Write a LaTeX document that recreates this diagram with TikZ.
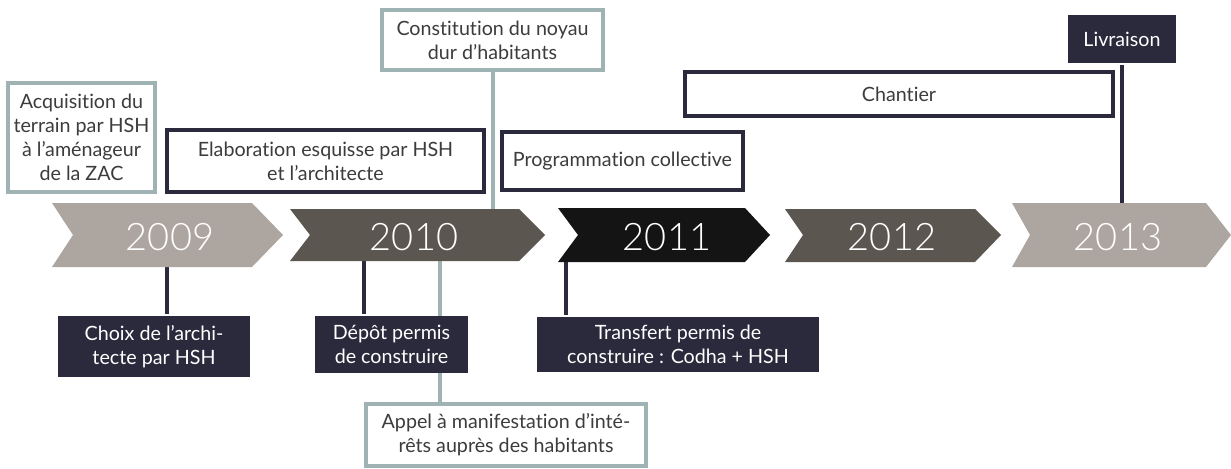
\documentclass[tikz,border=0pt]{standalone}
\usepackage{fontspec}
\setmainfont[Ligatures=NoCommon]{Lato}
\newfontfamily\yearfont{Lato Light}
\usetikzlibrary{backgrounds}
\definecolor{beige}{HTML}{ADA59F}
\definecolor{taupe}{HTML}{5B5650}
\definecolor{inky}{HTML}{141414}
\definecolor{navy}{HTML}{2B2A3D}
\definecolor{pale}{HTML}{9FB3B5}
\definecolor{txt}{HTML}{3C3C3C}
\begin{document}
\begin{tikzpicture}[x=0.025cm,y=-0.025cm,
  box/.style={line width=2.4pt,align=center,inner sep=0pt,font=\fontsize{14}{17}\selectfont},
  palebox/.style={box,draw=pale,fill=white,text=txt},
  darkbox/.style={box,draw=navy,fill=white,text=txt},
  navybox/.style={box,fill=navy,text=white},
  year/.style={text=white,font=\yearfont\fontsize{27}{30}\selectfont},
  link/.style={line width=2.4pt,navy},
  palelink/.style={line width=2.4pt,pale}]
\useasboundingbox (0,0) rectangle (1231,468);
% years
\fill[beige] (52,203)--(252,203)--(283,235)--(252,267)--(52,267)--(73,235)--cycle;
\fill[taupe] (290,209)--(519,209)--(545,235)--(519,261)--(290,261)--(310,235)--cycle;
\fill[inky] (558,208)--(745,208)--(770,235)--(745,262)--(558,262)--(578,235)--cycle;
\fill[taupe] (785,209)--(975,209)--(1001,235)--(975,262)--(785,262)--(803,235)--cycle;
\fill[beige] (1012,203)--(1206,203)--(1231,235)--(1206,267)--(1012,267)--(1030,235)--cycle;
\node[year] (y09) at (170,237) {2009};
\node[year] (y10) at (414,237) {2010};
\node[year] (y11) at (667,237) {2011};
\node[year] (y12) at (892,237) {2012};
\node[year] (y13) at (1118,237) {2013};
\coordinate (b09) at (167,267);
\coordinate (b10a) at (364,261);
\coordinate (b10b) at (440,261);
\coordinate (t10) at (493,209);
\coordinate (b11) at (566,262);
\coordinate (t13) at (1122,203);
% above
\node[palebox,minimum width=3.675cm,minimum height=2.725cm] (acq) at (81.5,137.5)
  {Acquisition du\\terrain par HSH\\à l’aménageur\\de la ZAC};
\node[darkbox,minimum width=7.925cm,minimum height=1.55cm] (elab) at (325.5,161)
  {Elaboration esquisse par HSH\\et l’architecte};
\node[palebox,minimum width=5.525cm,minimum height=1.5cm] (const) at (492.5,40)
  {Constitution du noyau\\dur d’habitants};
\node[darkbox,minimum width=6.025cm,minimum height=1.45cm] (prog) at (622.5,161)
  {Programmation collective};
\node[darkbox,minimum width=10.7cm,minimum height=1.1cm] (chant) at (899,94) {Chantier};
\node[navybox,minimum width=2.7cm,minimum height=1.2cm] (livr) at (1122,39) {Livraison};
% below
\node[navybox,minimum width=4.8cm,minimum height=1.525cm] (choix) at (154,346.5)
  {Choix de l’archi-\\tecte par HSH};
\node[navybox,minimum width=3.825cm,minimum height=1.425cm] (depot) at (391.5,344.5)
  {Dépôt permis\\de construire};
\node[palebox,minimum width=7cm,minimum height=1.55cm] (appel) at (506,435)
  {Appel à manifestation d’inté-\\rêts auprès des habitants};
\node[navybox,minimum width=7.05cm,minimum height=1.375cm] (transf) at (678,344.5)
  {Transfert permis de\\construire : Codha + HSH};
\begin{scope}[on background layer]
\draw[palelink] (const.south -| t10) -- (t10);
\draw[link] (livr.south) -- (t13);
\draw[link] (b09) -- (b09 |- choix.north);
\draw[link] (b10a) -- (b10a |- depot.north);
\draw[palelink] (b10b) -- (b10b |- appel.north);
\draw[link] (b11) -- (b11 |- transf.north);
\end{scope}
\end{tikzpicture}
\end{document}
